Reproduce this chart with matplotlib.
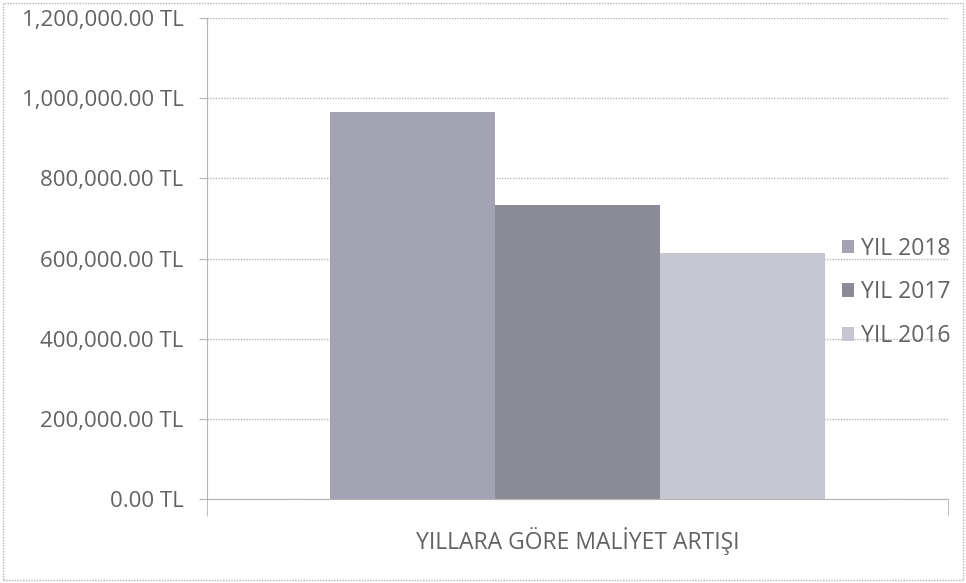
import numpy as np
from matplotlib import pyplot as plt
from matplotlib.patches import Rectangle
from matplotlib.ticker import FuncFormatter

# data
category = 'YILLARA GÖRE MALİYET ARTIŞI'
series = ['YIL 2018', 'YIL 2017', 'YIL 2016']
values = [965000, 733000, 613000]
colors = ['#a3a3b3', '#8b8b97', '#c6c6d2']

plt.rcParams['font.family'] = ['Open Sans', 'DejaVu Sans']
text_color = '#626262'

fig = plt.figure(figsize=(9.66, 5.83), dpi=100)
ax = fig.add_axes([207 / 966, 1 - 499 / 583, (948 - 207) / 966, (499 - 18) / 583])

barWidth = 0.223
offsets = (np.arange(len(series)) - 1) * barWidth
for off, val, col, name in zip(offsets, values, colors, series):
    ax.bar(off, val, width=barWidth, color=col, edgecolor='none', label=name, zorder=2)

ax.set_xlim(-0.5, 0.5)
ax.set_ylim(0, 1200000)
ax.set_yticks(np.arange(0, 1200001, 200000))
ax.yaxis.set_major_formatter(FuncFormatter(lambda v, p: '{:,.2f} TL'.format(v)))
ax.set_xticks([0])
ax.set_xticklabels([category])
ax.set_xticks([-0.5, 0.5], minor=True)

ax.grid(axis='y', color='#b4b4b4', linestyle=(0, (1, 1)), linewidth=1, zorder=0)
for s in ['top', 'right']:
    ax.spines[s].set_visible(False)
for s in ['left', 'bottom']:
    ax.spines[s].set_color('#b4b4b4')
    ax.spines[s].set_linestyle((0, (1, 1)))
ax.tick_params(axis='y', length=6, color='#b4b4b4', labelsize=16, labelcolor=text_color, pad=11)
ax.tick_params(axis='x', which='major', length=0, labelsize=16.5, labelcolor=text_color, pad=20)
ax.tick_params(axis='x', which='minor', length=12, color='#b4b4b4')

leg = ax.legend(loc='upper left', bbox_to_anchor=(821 / 966, 1 - 216 / 583), bbox_transform=fig.transFigure,
                frameon=False, fontsize=16.5, handlelength=0.55, handleheight=0.55, handletextpad=0.3,
                labelspacing=0.86, labelcolor=text_color)

# chart frame
fig.patches.append(Rectangle((3 / 966, 3 / 583), 960 / 966, 577 / 583, transform=fig.transFigure,
                             fill=False, edgecolor='#b4b4b4', linestyle=(0, (1, 1)), linewidth=1))

fig.savefig('out.png', dpi=100)
